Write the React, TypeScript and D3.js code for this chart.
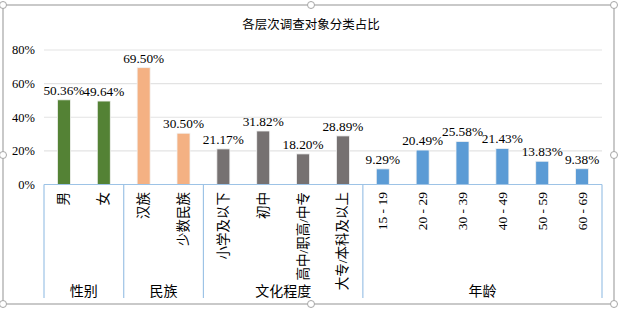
import React from 'react';
import * as d3 from 'd3';

const categories = ['男', '女', '汉族', '少数民族', '小学及以下', '初中', '高中/职高/中专', '大专/本科及以上', '15 - 19', '20 - 29', '30 - 39', '40 - 49', '50 - 59', '60 - 69'];
const values = [50.36, 49.64, 69.5, 30.5, 21.17, 31.82, 18.2, 28.89, 9.29, 20.49, 25.58, 21.43, 13.83, 9.38];
const groups = ['性别', '民族', '文化程度', '年龄'];
const groupSizes = [2, 2, 4, 6];
const groupColors = ['#548235', '#F4B183', '#767171', '#5B9BD5'];
const yTicks = [0, 20, 40, 60, 80];
const title = '各层次调查对象分类占比';

const W = 621, H = 311;
const SERIF = '"Liberation Serif", "Times New Roman", "Noto Sans CJK SC", serif';

export default function App() {
  const x = d3.scaleBand<number>().domain(d3.range(categories.length)).range([44, 602]).paddingInner(0).paddingOuter(0);
  const y = d3.scaleLinear().domain([0, 80]).range([184.5, 50]);
  const bw = 13;
  const groupOf: number[] = [];
  groupSizes.forEach((s, g) => { for (let i = 0; i < s; i++) groupOf.push(g); });
  const bounds: number[] = [0];
  groupSizes.forEach((s, g) => bounds.push(bounds[g] + s));
  const bx = (i: number) => (i < categories.length ? x(i)! : x(categories.length - 1)! + x.bandwidth());
  const handles = [[3, 5], [311, 5], [614, 5], [3, 155], [614, 155], [3, 304], [311, 304], [614, 304]];
  return (
    <div style={{ position: 'fixed', left: 0, top: 0, width: W, height: H, background: '#fff' }}>
      <svg width={W} height={H} style={{ display: 'block' }}>
        <rect x={3} y={5} width={611} height={299} fill="#fff" stroke="#A6A6A6" strokeWidth={1.2} />
        <text x={311} y={29} textAnchor="middle" fontFamily={SERIF} fontSize={12.5} fill="#000">{title}</text>
        {yTicks.map(t => (
          <g key={t}>
            {t > 0 && <line x1={44} x2={602} y1={y(t)} y2={y(t)} stroke="#E3E3E3" strokeWidth={1.2} />}
            <text x={35} y={y(t)} dy="0.35em" textAnchor="end" fontFamily={SERIF} fontSize={12.5} fill="#000">{t}%</text>
          </g>
        ))}
        {values.map((v, i) => (
          <rect key={i} x={x(i)! + x.bandwidth() / 2 - bw / 2} y={y(v)} width={bw} height={y(0) - y(v)}
            fill={groupColors[groupOf[i]]} stroke="#F2F2F2" strokeWidth={0.8} />
        ))}
        {values.map((v, i) => (
          <text key={i} x={x(i)! + x.bandwidth() / 2} y={y(v) - 5} textAnchor="middle" fontFamily={SERIF} fontSize={13.3} fill="#000">{v.toFixed(2)}%</text>
        ))}
        <line x1={44} x2={602} y1={y(0)} y2={y(0)} stroke="#9DC3E6" strokeWidth={1.2} />
        {bounds.map((b, k) => (
          <line key={k} x1={bx(b)} x2={bx(b)} y1={y(0)} y2={298} stroke="#9DC3E6" strokeWidth={1.2} />
        ))}
        {categories.map((c, i) => (
          <text key={i} transform={`translate(${x(i)! + x.bandwidth() / 2},192) rotate(-90)`} textAnchor="end" dominantBaseline="central"
            fontFamily={SERIF} fontSize={13.5} fill="#000">{c}</text>
        ))}
        {groups.map((g, k) => (
          <text key={k} x={(bx(bounds[k]) + bx(bounds[k + 1])) / 2} y={296} textAnchor="middle" fontFamily={SERIF} fontSize={14} fill="#000">{g}</text>
        ))}
        {handles.map(([hx, hy], k) => (
          <circle key={k} cx={hx} cy={hy} r={3.5} fill="#fff" stroke="#A6A6A6" strokeWidth={1} />
        ))}
      </svg>
    </div>
  );
}
